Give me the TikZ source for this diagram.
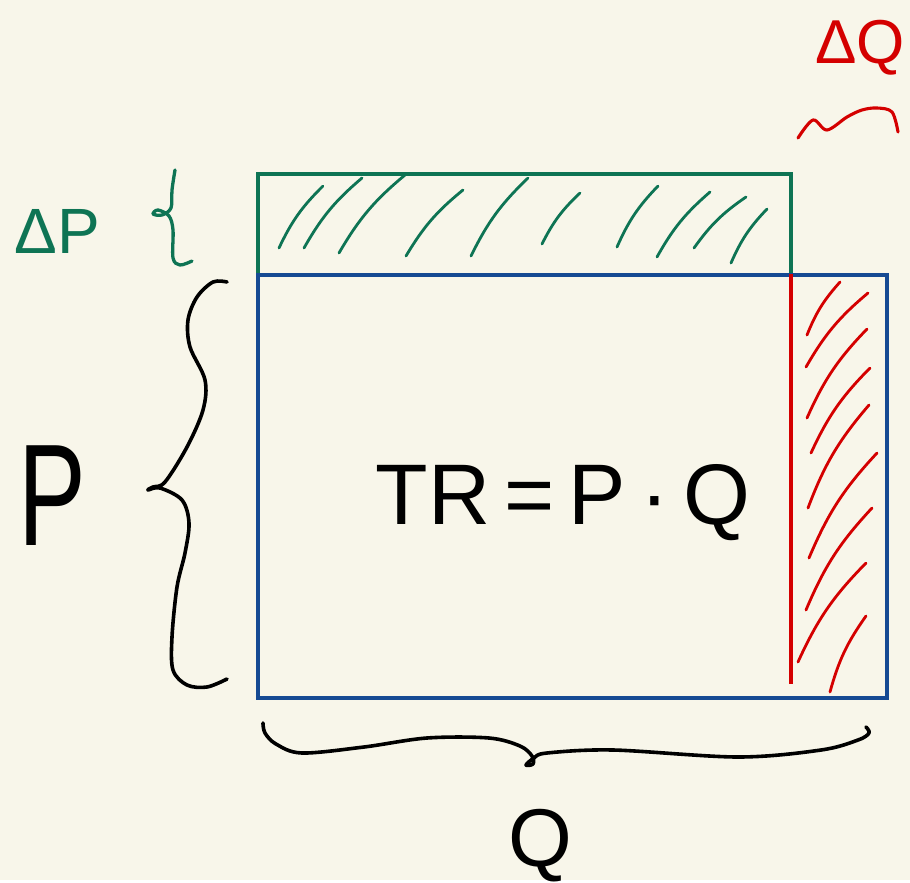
\documentclass[tikz,border=0pt]{standalone}
\usepackage{fontspec}
\setmainfont{Liberation Sans}
\definecolor{paper}{RGB}{248,246,234}
\definecolor{penGreen}{RGB}{14,116,84}
\definecolor{penBlue}{RGB}{22,74,147}
\definecolor{penRed}{RGB}{212,0,0}

\begin{document}
\begin{tikzpicture}[x=1pt, y=-1pt,
  frame/.style={line width=3.4pt},
  hatchg/.style={draw=penGreen, line width=2.8pt, line cap=round},
  hatchr/.style={draw=penRed, line width=2.8pt, line cap=round},
  brace/.style={line width=3.6pt, line cap=round, line join=round},
  hand/.style={inner sep=0pt}]
  \fill[paper] (0,0) rectangle (910,880);

  % the two areas
  \draw[frame, penGreen] (258,174) rectangle (791,275);
  \draw[frame, penBlue] (258,275) rectangle (887,698);
  \draw[frame, penRed, line width=3.1pt] (791,274) -- (791,684);

  % hatching of the strips
  \foreach \xa/\ya/\xb/\yb in {323/186/279/248, 362/178/304/248, 405/175/339/253,
      463/190/406/256, 528/178/471/256, 580/193/542/244, 658/186/617/247,
      710/192/657/257, 746/197/694/248, 767/209/731/263} {
    \draw[hatchg] (\xa,\ya) to[bend right=10] (\xb,\yb);
  }
  \foreach \xa/\ya/\xb/\yb in {840/282/807/335, 868/293/806/367, 867/329/807/418,
      870/368/811/453, 869/405/808/508, 877/453/809/558, 872/508/806/610,
      866/563/798/662, 866/616/830/692} {
    \draw[hatchr] (\xa,\ya) to[bend right=10] (\xb,\yb);
  }

  % braces
  \draw[brace] plot[smooth, tension=0.55] coordinates {(227,282) (213,282) (197,297)
    (188,320) (190,347) (205,380) (203,410) (187,447) (165,482) (153,487) (148,490)
    (160,488) (182,500) (189,523) (185,553) (177,587) (172,637) (173,670) (187,685)
    (207,687) (227,679)};
  \draw[brace] plot[smooth, tension=0.55] coordinates {(263,723) (265,733) (276,744)
    (302,753) (364,747) (427,738) (489,738) (520,746) (532,756) (533,764) (526,765)
    (534,758) (547,753) (613,750) (738,757) (821,750) (858,740) (869,733) (866,727)};
  \draw[brace, penGreen, line width=3.3pt] plot[smooth, tension=0.55] coordinates {(175,170)
    (172,190) (171,208) (162,215) (153,214) (158,210) (169,216) (173,230) (173,258)
    (180,265) (192,261)};
  \draw[brace, penRed, line width=3.1pt] plot[smooth, tension=0.55] coordinates {(798,138)
    (813,120) (827,130) (847,117) (862,110) (877,108) (892,112) (898,132)};

  % labels
  \node[hand, text=penGreen, font=\fontsize{64}{70}\selectfont] (lblDP) at (57,231) {ΔP};
  \node[hand, text=penRed, font=\fontsize{62}{70}\selectfont] (lblDQ) at (860,48) {ΔQ};
  \node[hand, xscale=0.7, font=\fontsize{145}{150}\selectfont] (lblP) at (52,496) {P};
  \node[hand, font=\fontsize{86}{90}\selectfont] (lblTR) at (563,503) {TR\,=\,P\,·\,Q};
  \node[hand, font=\fontsize{82}{90}\selectfont] (lblQ) at (540,846) {Q};
\end{tikzpicture}
\end{document}
